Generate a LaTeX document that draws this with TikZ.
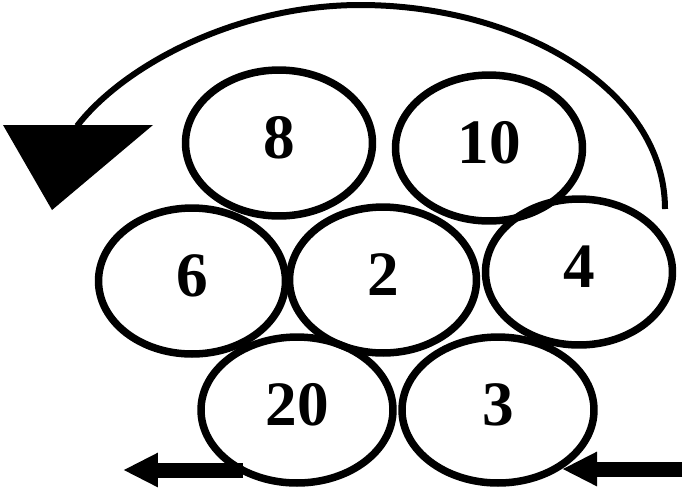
\documentclass[tikz,border=0pt]{standalone}
\usepackage{fontspec}
\setmainfont{Liberation Serif}
\usetikzlibrary{shapes.geometric}
\usetikzlibrary{arrows.meta}

\tikzset{
  cell/.style={ellipse,draw=black,line width=0.15cm,inner sep=0pt,
    minimum width=3.74cm,minimum height=2.92cm,
    text height=0.86cm,text depth=0.26cm,
    font=\fontsize{36}{36}\selectfont\bfseries},
  widecell/.style={cell,minimum width=3.84cm},
  flowarrow/.style={line width=0.3cm,-{Triangle[length=0.7cm,width=0.64cm]}}
}

\begin{document}
\begin{tikzpicture}[x=0.02cm,y=-0.02cm]
\useasboundingbox (0,0) rectangle (685,495);
% top row
\node[cell] (c8) at (279,143) {8};
\node[cell] (c10) at (489,148) {10};
% middle row
\node[cell] (c6) at (192,281) {6};
\node[cell] (c2) at (383,280) {2};
\node[cell] (c4) at (579,272) {4};
% bottom row
\node[widecell] (c20) at (297,410) {20};
\node[widecell] (c3) at (498,410) {3};

% rotation arc with its head
\coordinate (arcstart) at (665,209);
\coordinate (arctop) at (360,5);
\coordinate (arcend) at (77,126);
\draw[line width=0.12cm] (arcstart) .. controls (665,90) and (520,5) .. (arctop)
  .. controls (240,5) and (126,63) .. (arcend);
\fill (3,125) -- (153,125) -- (52,210) -- cycle;

% flow in and out
\coordinate (outstart) at (243,470);
\coordinate (outend) at (123,470);
\coordinate (instart) at (682,469);
\coordinate (inend) at (562,469);
\draw[flowarrow] (outstart) -- (outend);
\draw[flowarrow] (instart) -- (inend);

\end{tikzpicture}
\end{document}
